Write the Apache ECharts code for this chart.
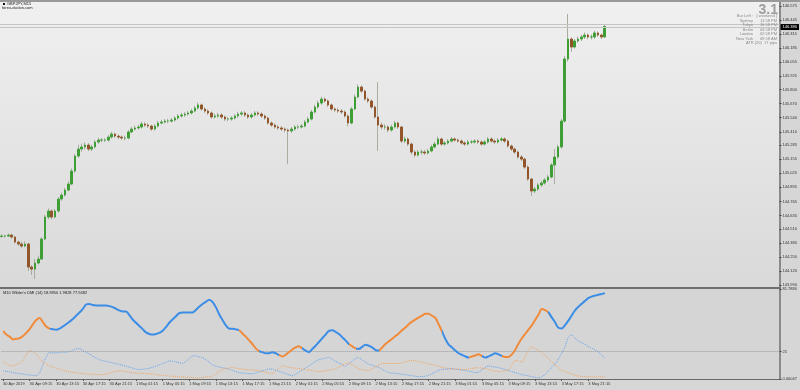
<!DOCTYPE html>
<html><head><meta charset="utf-8">
<script src="https://cdn.jsdelivr.net/npm/echarts@6/dist/echarts.min.js"></script>
<style>html,body{margin:0;padding:0;background:#d6d6d6}#c{width:800px;height:390px}</style>
</head><body><div id="c"></div><script>
// ---------- data ----------
const timeLabels = ['30 Apr 2019','30 Apr 09:15','30 Apr 13:15','30 Apr 17:15','30 Apr 21:15','1 May 01:15','1 May 05:15','1 May 09:15','1 May 13:15','1 May 17:15','1 May 21:15','2 May 01:15','2 May 05:15','2 May 09:15','2 May 13:15','2 May 17:15','2 May 21:15','3 May 01:15','3 May 05:15','3 May 09:15','3 May 13:15','3 May 17:15','3 May 21:15'];
const priceTicks = [146.575,146.445,146.315,146.185,146.055,145.925,145.800,145.670,145.540,145.410,145.285,145.155,145.025,144.895,144.765,144.635,144.510,144.380,144.250,144.120,143.990];
const dmiTicks = [81.788, 25, 0];
const dmiTickText = ['81.7880', '25', '0.00047'];
const bidPrice = 146.380;
const askPrice = 146.405;

const opens = [144.440,144.444,144.444,144.453,144.435,144.388,144.370,144.351,144.370,144.157,
144.138,144.194,144.231,144.416,144.620,144.676,144.620,144.676,144.787,144.824,
144.870,144.926,145.046,145.185,145.250,145.269,145.287,145.250,145.269,145.315,
145.333,145.333,145.333,145.361,145.389,145.370,145.361,145.352,145.352,145.408,
145.435,145.445,145.454,145.482,145.472,145.463,145.435,145.463,145.491,145.500,
145.509,145.509,145.519,145.537,145.556,145.565,145.574,145.584,145.602,145.630,
145.658,145.621,145.602,145.584,145.547,145.556,145.565,145.547,145.528,145.528,
145.537,145.556,145.574,145.584,145.565,145.547,145.565,145.584,145.574,145.556,
145.537,145.491,145.472,145.454,145.445,145.435,145.426,145.417,145.435,145.454,
145.454,145.463,145.500,145.528,145.593,145.639,145.676,145.713,145.695,145.658,
145.621,145.611,145.602,145.593,145.556,145.491,145.621,145.732,145.824,145.787,
145.713,145.695,145.639,145.547,145.472,145.454,145.454,145.426,145.454,145.491,
145.454,145.324,145.343,145.296,145.222,145.194,145.222,145.222,145.213,145.232,
145.269,145.296,145.343,145.296,145.306,145.324,145.343,145.333,145.324,145.306,
145.296,145.315,145.315,145.324,145.315,145.296,145.315,145.343,145.324,145.315,
145.333,145.343,145.324,145.278,145.250,145.222,145.176,145.157,145.083,144.972,
144.861,144.879,144.917,144.935,144.963,144.991,145.102,145.176,145.269,145.509,
146.084,146.269,146.195,146.251,146.269,146.288,146.306,146.288,146.288,146.325,
146.306,146.288];
const closes = [144.444,144.444,144.453,144.435,144.388,144.370,144.351,144.370,144.157,144.138,
144.194,144.231,144.416,144.620,144.676,144.620,144.676,144.787,144.824,144.870,
144.926,145.046,145.185,145.250,145.269,145.287,145.250,145.269,145.315,145.333,
145.333,145.333,145.361,145.389,145.370,145.361,145.352,145.352,145.408,145.435,
145.445,145.454,145.482,145.472,145.463,145.435,145.463,145.491,145.500,145.509,
145.509,145.519,145.537,145.556,145.565,145.574,145.584,145.602,145.630,145.658,
145.621,145.602,145.584,145.547,145.556,145.565,145.547,145.528,145.528,145.537,
145.556,145.574,145.584,145.565,145.547,145.565,145.584,145.574,145.556,145.537,
145.491,145.472,145.454,145.445,145.435,145.426,145.417,145.435,145.454,145.454,
145.463,145.500,145.528,145.593,145.639,145.676,145.713,145.695,145.658,145.621,
145.611,145.602,145.593,145.556,145.491,145.621,145.732,145.824,145.787,145.713,
145.695,145.639,145.547,145.472,145.454,145.454,145.426,145.454,145.491,145.454,
145.324,145.343,145.296,145.222,145.194,145.222,145.222,145.213,145.232,145.269,
145.296,145.343,145.296,145.306,145.324,145.343,145.333,145.324,145.306,145.296,
145.315,145.315,145.324,145.315,145.296,145.315,145.343,145.324,145.315,145.333,
145.343,145.324,145.278,145.250,145.222,145.176,145.157,145.083,144.972,144.861,
144.879,144.917,144.935,144.963,144.991,145.102,145.176,145.269,145.509,146.084,
146.269,146.195,146.251,146.269,146.288,146.306,146.288,146.288,146.325,146.306,
146.288,146.385];
const highs = [144.462,144.458,144.468,144.466,144.447,144.400,144.392,144.395,144.382,144.176,
144.230,144.262,144.434,144.640,144.700,144.690,144.695,144.805,144.846,144.890,
144.950,145.070,145.205,145.290,145.300,145.312,145.305,145.290,145.335,145.355,
145.352,145.350,145.380,145.410,145.402,145.385,145.375,145.372,145.425,145.455,
145.466,145.475,145.502,145.498,145.488,145.476,145.480,145.510,145.520,145.528,
145.530,145.538,145.555,145.575,145.585,145.592,145.604,145.622,145.650,145.680,
145.672,145.636,145.618,145.598,145.578,145.585,145.582,145.560,145.548,145.556,
145.575,145.595,145.603,145.600,145.580,145.585,145.602,145.600,145.590,145.570,
145.550,145.505,145.488,145.470,145.462,145.450,145.440,145.455,145.472,145.475,
145.482,145.520,145.548,145.612,145.660,145.698,145.735,145.728,145.708,145.670,
145.638,145.628,145.620,145.608,145.570,145.640,145.755,145.850,145.840,145.800,
145.730,145.710,145.655,145.871,145.495,145.480,145.470,145.475,145.512,145.505,
145.465,145.365,145.358,145.310,145.240,145.242,145.245,145.240,145.252,145.290,
145.318,145.365,145.355,145.325,145.342,145.362,145.358,145.348,145.338,145.322,
145.335,145.334,145.342,145.340,145.330,145.335,145.362,145.358,145.340,145.352,
145.362,145.358,145.338,145.292,145.266,145.238,145.195,145.170,145.098,144.985,
144.900,144.935,144.955,144.982,145.010,145.120,145.250,145.290,145.530,146.110,
146.501,146.285,146.270,146.292,146.310,146.330,146.322,146.312,146.345,146.340,
146.320,146.400];
const lows = [144.428,144.430,144.436,144.420,144.376,144.352,144.334,144.340,144.120,144.083,
144.046,144.180,144.222,144.405,144.600,144.598,144.606,144.662,144.770,144.810,
144.858,144.915,145.030,145.170,145.226,145.245,145.230,145.232,145.255,145.298,
145.312,145.315,145.318,145.345,145.352,145.340,145.335,145.330,145.340,145.395,
145.420,145.430,145.440,145.455,145.445,145.418,145.420,145.450,145.478,145.486,
145.490,145.494,145.502,145.520,145.540,145.548,145.560,145.570,145.590,145.615,
145.605,145.585,145.566,145.530,145.532,145.540,145.528,145.510,145.508,145.512,
145.522,145.540,145.558,145.548,145.530,145.532,145.550,145.558,145.538,145.520,
145.475,145.455,145.438,145.428,145.418,145.405,145.111,145.400,145.420,145.435,
145.440,145.450,145.488,145.515,145.580,145.625,145.660,145.680,145.640,145.605,
145.595,145.585,145.575,145.540,145.460,145.480,145.610,145.718,145.770,145.698,
145.676,145.622,145.530,145.232,145.430,145.430,145.405,145.410,145.440,145.436,
145.305,145.305,145.278,145.200,145.175,145.180,145.200,145.195,145.198,145.220,
145.255,145.285,145.280,145.282,145.292,145.310,145.318,145.308,145.290,145.280,
145.282,145.298,145.300,145.298,145.280,145.282,145.300,145.308,145.298,145.300,
145.318,145.306,145.262,145.232,145.205,145.160,145.138,145.065,144.955,144.815,
144.840,144.862,144.900,144.920,144.945,144.978,144.926,145.160,145.255,145.495,
146.060,146.150,146.180,146.235,146.250,146.270,146.268,146.265,146.270,146.288,
146.270,146.280];

const adx = [43.8,40.4,38.5,36.0,36.5,37.0,39.0,41.9,45.3,49.7,
53.6,55.5,51.6,47.7,45.8,45.3,44.8,45.8,47.7,49.7,
52.1,54.5,57.5,60.4,63.8,67.7,68.2,67.2,66.8,66.8,
66.8,66.8,66.2,65.3,63.8,62.3,61.4,61.4,58.0,54.1,
51.1,48.2,45.3,42.4,40.9,40.4,40.9,41.9,43.8,47.2,
51.1,54.1,57.0,59.9,60.4,60.4,60.4,60.4,62.8,65.7,
68.2,70.1,72.1,70.1,65.3,58.9,53.6,48.7,45.8,45.6,
45.1,44.3,41.4,38.5,35.1,31.7,27.8,25.3,24.4,23.4,
23.4,24.4,23.4,21.9,20.5,21.9,24.4,26.8,28.7,29.7,
27.8,25.8,24.4,27.3,30.2,33.6,37.0,40.4,43.8,44.3,
42.9,40.9,38.0,35.1,31.7,29.7,27.8,27.3,29.2,31.2,
30.2,28.7,26.3,25.8,28.7,31.7,34.1,36.5,39.0,41.4,
44.3,46.8,49.7,52.1,54.1,56.0,57.5,59.4,59.4,57.5,
55.5,49.7,43.3,36.5,31.2,28.7,25.8,23.4,21.9,20.5,
19.5,20.5,21.4,22.4,20.9,19.5,20.5,21.9,23.4,22.4,
20.9,20.0,20.0,22.4,26.3,32.1,37.0,40.9,44.8,48.7,
53.6,58.4,63.5,62.5,60.4,56.0,51.5,46.5,46.0,49.0,
53.0,57.7,62.3,65.6,68.3,71.0,73.5,74.9,75.8,76.6,
77.3,77.95];
const plusDI = [7.5,7,6.5,5.8,5.3,4.9,4.5,4,3.6,3.3,
3,5.5,13,20,24.2,23.7,23.8,24.2,24.4,24.4,
25,26.2,27.5,27.6,26,24.4,22.7,20.8,19,17.5,
16.8,16,15.3,14.6,13.9,13.2,12.5,11.6,10.8,9.9,
9,8.6,8.9,9.2,9.8,10.7,11.6,12.8,14,15.2,
16.4,16.2,15.5,14.8,14.3,16,18.5,21,20.9,20,
19.2,17.5,15.2,12.9,11.6,10.9,10.2,9.6,8.9,7.8,
6.8,5.8,5.4,5.2,4.9,4.8,5.5,6.5,7.4,8.3,
9.1,8.9,8,7,6,4.9,3.8,3,4.5,6.3,
8.2,10,12,14,16,17.6,18.3,19,19.6,17.8,
16,14.5,13.2,11.6,13.8,16.2,18.6,19.2,17.3,15.2,
13.5,12.5,11.5,10.5,8.8,7.2,5.8,5.4,5.1,4.8,
4.3,3.9,3.4,2.9,2.5,2.1,2.2,2.6,3.5,4.9,
6.3,7.9,8.7,8.9,9.1,9.3,8.9,8.6,8.1,7.6,
7.1,6.5,5.9,6.3,8.3,10.5,11.8,11.3,10.8,10.4,
9.5,8.6,7.7,6.8,5.8,4.9,3.9,3.4,2.8,2.2,
1.6,1,2,4.2,7.5,10.5,13.5,18,23.5,29.5,
38,40,37,34.5,33,31.5,29.5,28,26.5,24.5,
22,18.985];
const minusDI = [16,14.2,12,11.9,13.3,14.6,17,21.5,26,25,
22.2,18.8,15.3,13.3,12.1,10.8,9.8,8.9,8,7.1,
6.4,6,5.6,5.2,4.8,4.6,4.4,4.3,4.1,3.9,
4,4.7,5.5,6.3,7.1,7.4,7,6.6,6.1,5.7,
5.5,5.3,5.1,5,4.8,4.5,4.1,3.7,3.4,3,
2.7,2.5,2.3,2.1,1.9,1.7,1.5,1.3,1.1,0.9,
1.3,1.8,2.2,2.7,4.9,7,8.7,9.5,10,10.3,
9.9,9.5,9.1,8.7,8.4,8.2,7.9,7.6,7,6.3,
5.6,4.8,7.3,9.8,12.1,11.5,10.6,10.1,9.8,9.4,
9,8.6,8.2,7.7,7.1,6.6,7.1,7.5,8,8.4,
9.5,11,12.4,13.9,14.6,12.8,11,9.2,8.3,7.9,
7.6,9.3,11,12.6,14.1,14.1,14.1,14.1,14.1,14.1,
14.8,15.5,16.2,16.9,16.6,16,15.2,14.4,13.8,13.1,
12.4,11.6,10.6,10,9.5,9.3,9.1,8.9,8.8,8.6,
8.9,9.5,10.1,10.2,9.9,9.6,8.7,7.8,7.2,6.7,
7.2,7.8,8.3,12.5,16.9,16.3,15.3,20.5,25.5,29.5,
27.5,26,24.2,21.3,18.5,15.6,13,10.5,8,6.8,
5.7,4.5,3.3,2.6,2.4,2.2,2,1.9,1.9,2,
2,1.9828];
// ADX colour by trend: [fromIndex, toIndex, trend]
const adxSegments = [[0,13.6,'down'],[13.6,70.9,'up'],[70.9,76.9,'down'],[76.9,82.6,'up'],[82.6,89.5,'down'],[89.5,103.5,'up'],[103.5,106,'down'],[106,112.5,'up'],[112.5,131.5,'down'],[131.5,139.5,'up'],[139.5,144,'down'],[144,149.5,'up'],[149.5,164,'down'],[164,400,'up']];
const infoNames = ['Bar Left :','Sydney','Tokyo','Berlin','London','New York'];
const infoValues = ['[ weekend ]','11:58 PM','10:58 PM','03:58 PM','02:58 PM','09:58 AM'];
const atrText = 'ATR (20)  17 pips';
const versionText = '3.1';
const symbolText = 'GBPJPY,M15';
const siteText = 'forex-station.com';
const dmiHeader = "M10 Wilder's DMI (14) 18.9850 1.9828 77.9482";

// ---------- chart ----------
const slots = 234;
const cats = Array.from({length: slots}, (_, i) => (i % 8 === 0 && timeLabels[i / 8]) ? timeLabels[i / 8] : '');
const wickData = opens.map((o, i) => [o, closes[i], lows[i], highs[i]]);
const bodyData = opens.map((o, i) => [o, closes[i], Math.min(o, closes[i]), Math.max(o, closes[i])]);
const UP = '#3f9f36', DOWN = '#93562a', WICK = '#a7ae9f';
const adxColor = {up: '#3b8de6', down: '#f08b3b'};
const pieces = adxSegments.map(s => ({gte: s[0], lt: s[1], color: adxColor[s[2]]}));
const FONT = 'Liberation Sans, Arial, sans-serif';
const small = {fontSize: 4, color: '#333', fontFamily: FONT};

const graphic = [
  {type: 'rect', shape: {x: 0, y: 0, width: 800, height: 2}, style: {fill: '#9a9a9a'}, z: 100},
  {type: 'rect', shape: {x: 0, y: 287, width: 781, height: 2}, style: {fill: '#6f6f6f'}, z: 100},
  {type: 'rect', shape: {x: 3, y: 3, width: 2, height: 2}, style: {fill: '#111'}, z: 100},
  {type: 'text', x: 7, y: 4, style: {text: symbolText, font: '4px ' + FONT, fill: '#222', verticalAlign: 'middle'}, z: 100},
  {type: 'text', x: 2, y: 7.5, style: {text: siteText, font: '4px ' + FONT, fill: '#222', verticalAlign: 'middle'}, z: 100},
  {type: 'text', x: 778, y: 10, style: {text: versionText, font: 'bold 14px ' + FONT, fill: '#9d9d9d', align: 'right', verticalAlign: 'middle'}, z: 100},
  {type: 'text', x: 3, y: 292.5, style: {text: dmiHeader, font: '4px ' + FONT, fill: '#222', verticalAlign: 'middle'}, z: 100},
  {type: 'text', x: 777, y: 43.3, style: {text: atrText, font: '4px ' + FONT, fill: '#8a8a8a', align: 'right', verticalAlign: 'middle'}, z: 100}
];
infoNames.forEach((n, k) => {
  const y = 16 + k * 4.55;
  graphic.push({type: 'text', x: 753, y: y, style: {text: n, font: '4px ' + FONT, fill: '#8a8a8a', align: 'right', verticalAlign: 'middle'}, z: 100});
  graphic.push({type: 'text', x: 777, y: y, style: {text: infoValues[k], font: '4px ' + FONT, fill: '#8a8a8a', align: 'right', verticalAlign: 'middle'}, z: 100});
});

const chart = echarts.init(document.getElementById('c'), null, {renderer: 'canvas'});
chart.setOption({
  animation: false,
  backgroundColor: '#d6d6d6',
  textStyle: {fontFamily: FONT},
  grid: [
    {left: 0, right: 19, top: 2, height: 285, show: true, borderWidth: 0,
     backgroundColor: {type: 'linear', x: 0, y: 0, x2: 0, y2: 1, colorStops: [{offset: 0, color: '#f0f0f0'}, {offset: 1, color: '#d9d9d9'}]}},
    {left: 0, right: 19, top: 289, height: 90, show: true, borderWidth: 0, backgroundColor: '#d5d5d5'}
  ],
  xAxis: [
    {type: 'category', gridIndex: 0, data: cats, boundaryGap: true, axisLine: {show: false}, axisTick: {show: false}, axisLabel: {show: false}, splitLine: {show: false}},
    {type: 'category', gridIndex: 1, data: cats, boundaryGap: true,
     axisLine: {show: true, lineStyle: {color: '#6a6a6a', width: 1}},
     axisTick: {show: true, alignWithLabel: true, interval: (i, v) => v !== '', length: 2, lineStyle: {color: '#555'}},
     axisLabel: Object.assign({show: true, interval: (i, v) => v !== '', align: 'left', margin: 3, hideOverlap: false}, small),
     splitLine: {show: false}}
  ],
  yAxis: [
    {type: 'value', gridIndex: 0, position: 'right', min: 143.981 - 0.009, max: 146.612,
     axisLine: {show: true, lineStyle: {color: '#8a8a8a', width: 2}},
     axisTick: {show: true, customValues: priceTicks, length: 2, lineStyle: {color: '#444'}},
     axisLabel: Object.assign({show: true, customValues: priceTicks, formatter: v => v.toFixed(3), margin: 3}, small),
     splitLine: {show: false}},
    {type: 'value', gridIndex: 1, position: 'right', min: 0, max: 81.788,
     axisLine: {show: true, lineStyle: {color: '#8a8a8a', width: 2}},
     axisTick: {show: true, customValues: dmiTicks, length: 2, lineStyle: {color: '#444'}},
     axisLabel: Object.assign({show: true, customValues: dmiTicks, margin: 3,
       formatter: v => { let b = 0; dmiTicks.forEach((t, k) => { if (Math.abs(t - v) < Math.abs(dmiTicks[b] - v)) b = k; }); return dmiTickText[b]; }}, small),
     splitLine: {show: false}}
  ],
  visualMap: {show: false, type: 'piecewise', seriesIndex: 2, dimension: 0, pieces: pieces},
  series: [
    {type: 'candlestick', name: 'wick', xAxisIndex: 0, yAxisIndex: 0, data: wickData, barWidth: 1, silent: true,
     itemStyle: {color: WICK, color0: WICK, borderColor: WICK, borderColor0: WICK, borderWidth: 1}},
    {type: 'candlestick', name: 'body', xAxisIndex: 0, yAxisIndex: 0, data: bodyData, barWidth: 2, silent: true,
     itemStyle: {color: UP, color0: DOWN, borderColor: UP, borderColor0: DOWN, borderWidth: 1},
     markLine: {silent: true, symbol: 'none', animation: false, lineStyle: {color: '#c4c4c4', type: 'solid', width: 1},
       data: [
         {yAxis: bidPrice, label: {show: true, position: 'end', formatter: bidPrice.toFixed(3), backgroundColor: '#000', color: '#fff', fontSize: 4, padding: [1, 2], distance: 1}},
         {yAxis: askPrice, label: {show: false}}
       ]}},
    {type: 'line', name: 'ADX', xAxisIndex: 1, yAxisIndex: 1, data: adx, showSymbol: false, smooth: 0.3, lineStyle: {width: 2}, silent: true, z: 5},
    {type: 'line', name: '+DI', xAxisIndex: 1, yAxisIndex: 1, data: plusDI, showSymbol: false, smooth: 0.3, silent: true,
     lineStyle: {width: 1, type: 'dotted', color: '#64a5ee'}, itemStyle: {color: '#64a5ee'}},
    {type: 'line', name: '-DI', xAxisIndex: 1, yAxisIndex: 1, data: minusDI, showSymbol: false, smooth: 0.3, silent: true,
     lineStyle: {width: 1, type: 'dotted', color: '#f3a561'}, itemStyle: {color: '#f3a561'},
     markLine: {silent: true, symbol: 'none', animation: false, label: {show: false}, lineStyle: {color: '#9c9c9c', type: 'dotted', width: 1}, data: [{yAxis: 25}]}}
  ],
  graphic: graphic
});
</script></body></html>
